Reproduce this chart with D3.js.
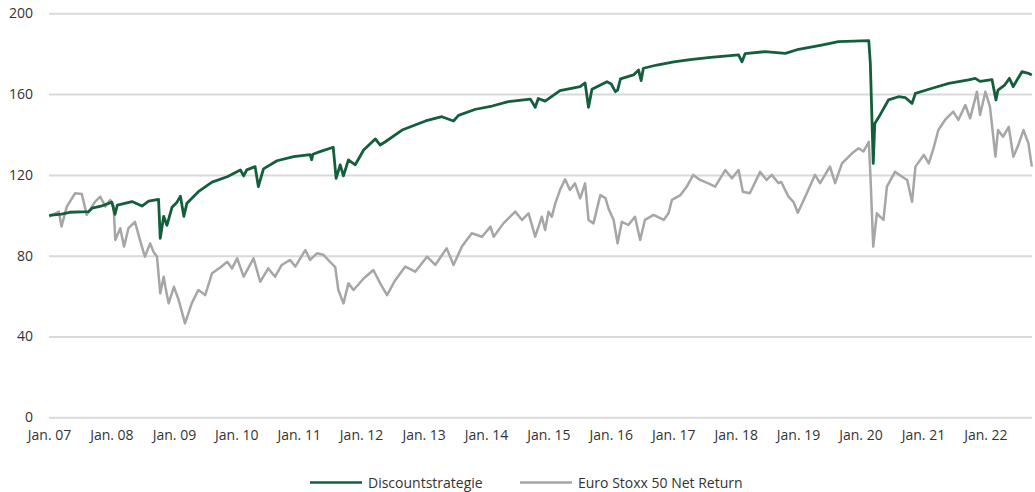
<!DOCTYPE html>
<html>
<head>
<meta charset="utf-8">
<script src="https://cdn.jsdelivr.net/npm/d3@7"></script>
<style>
  body { margin: 0; background: #fff; }
  svg text { font-family: "Open Sans", sans-serif; fill: #333; }
</style>
</head>
<body>
<div id="chart"></div>
<script>
// series values
const discountstrategie = [
  ["2007-01-02", 100.0], ["2007-03-15", 100.6], ["2007-05-01", 101.5], ["2007-08-20", 101.8],
  ["2007-09-10", 103.5], ["2007-11-01", 104.5], ["2008-01-04", 106.5], ["2008-01-22", 100.5],
  ["2008-02-05", 105.0], ["2008-05-01", 106.8], ["2008-06-28", 104.6], ["2008-08-06", 107.0],
  ["2008-10-03", 107.9], ["2008-10-13", 88.6], ["2008-11-02", 99.5], ["2008-11-21", 95.0],
  ["2008-12-21", 104.0], ["2009-01-19", 106.5], ["2009-02-08", 109.5], ["2009-02-28", 99.5],
  ["2009-03-18", 106.0], ["2009-05-24", 111.7], ["2009-08-12", 116.4], ["2009-11-09", 119.1],
  ["2010-01-25", 122.4], ["2010-02-13", 119.5], ["2010-03-03", 122.5], ["2010-04-21", 124.1],
  ["2010-05-10", 114.2], ["2010-06-09", 123.0], ["2010-08-27", 127.0], ["2010-12-03", 129.0],
  ["2011-03-09", 130.0], ["2011-03-18", 127.5], ["2011-03-25", 130.2], ["2011-05-06", 131.5],
  ["2011-07-22", 133.7], ["2011-08-08", 118.3], ["2011-09-01", 125.0], ["2011-09-20", 119.5],
  ["2011-10-19", 127.4], ["2011-11-28", 125.0], ["2012-01-16", 132.3], ["2012-03-24", 137.8],
  ["2012-04-22", 134.8], ["2012-05-22", 136.4], ["2012-08-28", 142.2], ["2013-01-12", 146.7],
  ["2013-04-18", 148.8], ["2013-06-25", 146.7], ["2013-07-24", 149.5], ["2013-11-01", 152.5],
  ["2014-02-06", 154.1], ["2014-05-12", 156.3], ["2014-09-18", 157.5], ["2014-10-16", 153.5],
  ["2014-11-03", 157.8], ["2014-12-13", 156.5], ["2015-03-10", 161.7], ["2015-07-06", 163.7],
  ["2015-08-04", 165.5], ["2015-08-24", 153.5], ["2015-09-13", 162.4], ["2015-12-10", 166.1],
  ["2016-01-04", 165.0], ["2016-01-28", 161.2], ["2016-02-10", 162.0], ["2016-02-27", 167.5],
  ["2016-05-13", 169.5], ["2016-06-12", 171.9], ["2016-06-27", 166.7], ["2016-07-10", 172.8],
  ["2016-09-27", 174.4], ["2017-01-04", 176.0], ["2017-04-10", 177.1], ["2017-08-07", 178.2],
  ["2018-01-18", 179.4], ["2018-02-07", 176.0], ["2018-02-25", 180.0], ["2018-06-21", 181.0],
  ["2018-10-19", 180.2], ["2019-01-04", 182.2], ["2019-05-19", 184.3], ["2019-08-25", 186.0],
  ["2020-02-19", 186.5], ["2020-02-28", 175.2], ["2020-03-16", 125.7], ["2020-03-25", 145.5],
  ["2020-04-25", 149.7], ["2020-06-13", 157.1], ["2020-08-11", 158.7], ["2020-09-19", 158.3],
  ["2020-10-29", 155.4], ["2020-11-18", 160.4], ["2021-02-24", 162.9], ["2021-06-01", 165.3],
  ["2021-09-25", 167.0], ["2021-11-03", 167.8], ["2021-12-01", 166.3], ["2022-02-09", 167.2],
  ["2022-03-04", 157.1], ["2022-03-16", 162.0], ["2022-04-24", 164.5], ["2022-05-22", 167.8],
  ["2022-06-13", 163.7], ["2022-08-03", 171.1], ["2022-09-10", 170.3], ["2022-09-30", 169.5]
];

const euroStoxx = [
  ["2007-01-02", 99.3], ["2007-02-28", 101.8], ["2007-03-15", 94.4], ["2007-04-15", 104.3],
  ["2007-06-03", 110.9], ["2007-07-12", 110.5], ["2007-08-10", 100.2], ["2007-09-28", 106.8],
  ["2007-10-28", 109.2], ["2007-11-27", 104.3], ["2007-12-25", 107.6], ["2008-01-14", 104.3],
  ["2008-01-24", 87.8], ["2008-02-22", 93.6], ["2008-03-15", 84.5], ["2008-04-10", 93.6],
  ["2008-05-18", 96.8], ["2008-06-16", 87.8], ["2008-07-15", 79.5], ["2008-08-15", 86.1],
  ["2008-09-03", 82.0], ["2008-09-24", 79.5], ["2008-10-13", 61.4], ["2008-11-02", 69.6],
  ["2008-11-12", 64.6], ["2008-12-01", 56.4], ["2009-01-01", 64.6], ["2009-01-29", 58.0],
  ["2009-03-07", 46.5], ["2009-04-15", 56.4], ["2009-05-24", 63.0], ["2009-07-03", 60.5],
  ["2009-08-12", 71.3], ["2009-10-01", 74.3], ["2009-11-09", 77.0], ["2009-12-07", 73.7],
  ["2010-01-06", 78.7], ["2010-02-13", 69.6], ["2010-04-12", 78.7], ["2010-05-21", 67.1],
  ["2010-07-07", 73.7], ["2010-08-16", 69.6], ["2010-09-24", 75.4], ["2010-11-12", 77.9],
  ["2010-12-12", 74.6], ["2011-02-09", 82.8], ["2011-03-09", 77.9], ["2011-04-18", 81.2],
  ["2011-05-25", 80.5], ["2011-07-03", 77.0], ["2011-08-03", 74.3], ["2011-08-21", 63.0],
  ["2011-09-20", 56.4], ["2011-10-19", 66.3], ["2011-11-18", 63.0], ["2012-01-16", 68.7],
  ["2012-03-13", 72.9], ["2012-04-22", 66.3], ["2012-06-01", 60.5], ["2012-07-19", 67.9],
  ["2012-09-16", 74.6], ["2012-11-13", 72.1], ["2013-01-21", 79.5], ["2013-03-10", 75.4],
  ["2013-05-16", 83.7], ["2013-06-25", 75.4], ["2013-08-13", 84.5], ["2013-10-10", 91.1],
  ["2013-12-09", 89.4], ["2014-01-27", 94.4], ["2014-02-15", 89.4], ["2014-04-13", 96.0],
  ["2014-06-21", 101.8], ["2014-07-31", 97.7], ["2014-09-07", 101.0], ["2014-10-16", 89.4],
  ["2014-11-24", 99.3], ["2014-12-13", 92.7], ["2015-01-02", 101.8], ["2015-01-21", 99.3],
  ["2015-02-11", 106.0], ["2015-03-10", 112.5], ["2015-04-09", 117.8], ["2015-05-07", 112.5],
  ["2015-06-06", 115.8], ["2015-07-06", 108.4], ["2015-08-04", 115.8], ["2015-08-24", 97.7],
  ["2015-09-22", 96.0], ["2015-11-01", 110.0], ["2015-12-01", 108.5], ["2015-12-19", 103.3],
  ["2016-01-18", 97.7], ["2016-02-10", 86.1], ["2016-03-06", 96.8], ["2016-04-13", 95.2],
  ["2016-05-22", 99.3], ["2016-06-21", 87.8], ["2016-07-19", 97.7], ["2016-09-08", 100.2],
  ["2016-11-06", 97.7], ["2016-12-04", 101.0], ["2016-12-24", 107.6], ["2017-02-12", 110.0],
  ["2017-03-21", 114.2], ["2017-04-28", 120.0], ["2017-06-07", 117.5], ["2017-07-25", 115.8],
  ["2017-09-03", 114.2], ["2017-11-01", 122.4], ["2017-12-10", 118.3], ["2018-01-18", 122.4],
  ["2018-02-12", 111.7], ["2018-03-25", 110.9], ["2018-05-24", 121.5], ["2018-07-01", 117.5],
  ["2018-07-31", 120.0], ["2018-09-09", 115.9], ["2018-09-25", 116.5], ["2018-11-06", 109.2],
  ["2018-12-05", 106.7], ["2018-12-31", 101.3], ["2019-02-12", 109.2], ["2019-04-10", 120.0],
  ["2019-05-10", 115.9], ["2019-07-07", 124.1], ["2019-08-06", 115.9], ["2019-09-15", 125.7],
  ["2019-11-13", 130.7], ["2019-12-21", 133.2], ["2020-01-19", 131.6], ["2020-02-19", 136.4],
  ["2020-02-28", 120.8], ["2020-03-16", 84.5], ["2020-04-06", 101.0], ["2020-04-25", 99.3],
  ["2020-05-15", 97.7], ["2020-06-04", 114.2], ["2020-07-22", 121.6], ["2020-09-01", 119.1],
  ["2020-10-01", 117.5], ["2020-10-29", 106.7], ["2020-11-18", 124.1], ["2021-01-06", 129.9],
  ["2021-02-04", 125.7], ["2021-03-04", 133.2], ["2021-04-01", 142.2], ["2021-05-10", 147.2],
  ["2021-06-27", 151.3], ["2021-07-27", 147.2], ["2021-09-06", 154.6], ["2021-10-04", 148.0],
  ["2021-11-13", 161.2], ["2021-12-01", 149.7], ["2022-01-01", 161.2], ["2022-01-28", 153.8],
  ["2022-03-01", 129.0], ["2022-03-16", 142.2], ["2022-04-15", 138.9], ["2022-05-18", 143.8],
  ["2022-06-14", 129.0], ["2022-07-13", 134.8], ["2022-08-12", 142.2], ["2022-09-10", 135.6],
  ["2022-09-30", 124.1]
];

const yTicks = [0, 40, 80, 120, 160, 200];
const xTickYears = ["2007", "2008", "2009", "2010", "2011", "2012", "2013", "2014",
  "2015", "2016", "2017", "2018", "2019", "2020", "2021", "2022"];
const seriesNames = ["Discountstrategie", "Euro Stoxx 50 Net Return"];
const seriesColors = ["#135f3c", "#a6a6a6"];

const width = 1035, height = 492;
const marg = {left: 49, right: 3, top: 13.3, bottom: 74.7};

const parse = d3.timeParse("%Y-%m-%d");
const toPoints = arr => arr.map(d => ({date: parse(d[0]), value: d[1]}));
const discData = toPoints(discountstrategie);
const stoxxData = toPoints(euroStoxx);

const svg = d3.select("#chart")
  .append("svg")
  .attr("width", width)
  .attr("height", height);

const xScale = d3.scaleTime()
  .domain([parse("2007-01-01"), parse("2022-10-01")])
  .range([marg.left, width - marg.right]);

const yScale = d3.scaleLinear()
  .domain([0, 200])
  .range([height - marg.bottom, marg.top]);

// gridlines + y labels
const yAxis = svg.append("g")
  .attr("transform", `translate(${marg.left},0)`)
  .call(d3.axisLeft(yScale)
    .tickValues(yTicks)
    .tickSize(-(width - marg.left - marg.right))
    .tickPadding(16));
yAxis.select(".domain").remove();
yAxis.selectAll(".tick line")
  .attr("stroke", "#d9d9d9")
  .attr("stroke-width", 2);
yAxis.selectAll(".tick text")
  .style("font-size", "14px")
  .attr("fill", "#333");

// x labels
const xAxis = svg.append("g")
  .attr("transform", `translate(0,${height - marg.bottom})`)
  .call(d3.axisBottom(xScale)
    .tickValues(xTickYears.map(y => parse(y + "-01-01")))
    .tickSize(0)
    .tickPadding(13)
    .tickFormat(d3.timeFormat("Jan. %y")));
xAxis.select(".domain").remove();
xAxis.selectAll(".tick text")
  .style("font-size", "14px")
  .attr("fill", "#333");

const line = d3.line()
  .x(d => xScale(d.date))
  .y(d => yScale(d.value));

svg.append("path")
  .datum(stoxxData)
  .attr("fill", "none")
  .attr("stroke", seriesColors[1])
  .attr("stroke-width", 2.5)
  .attr("stroke-linejoin", "round")
  .attr("d", line);

svg.append("path")
  .datum(discData)
  .attr("fill", "none")
  .attr("stroke", seriesColors[0])
  .attr("stroke-width", 2.8)
  .attr("stroke-linejoin", "round")
  .attr("d", line);

// legend
const legendX = [310, 520];
const legend = svg.append("g")
  .attr("transform", "translate(0,482.5)");
seriesNames.forEach((name, i) => {
  legend.append("line")
    .attr("x1", legendX[i])
    .attr("x2", legendX[i] + 52)
    .attr("stroke", seriesColors[i])
    .attr("stroke-width", 2.5);
  legend.append("text")
    .attr("x", legendX[i] + 58)
    .attr("y", 5)
    .style("font-size", "14px")
    .text(name);
});
</script>
</body>
</html>
